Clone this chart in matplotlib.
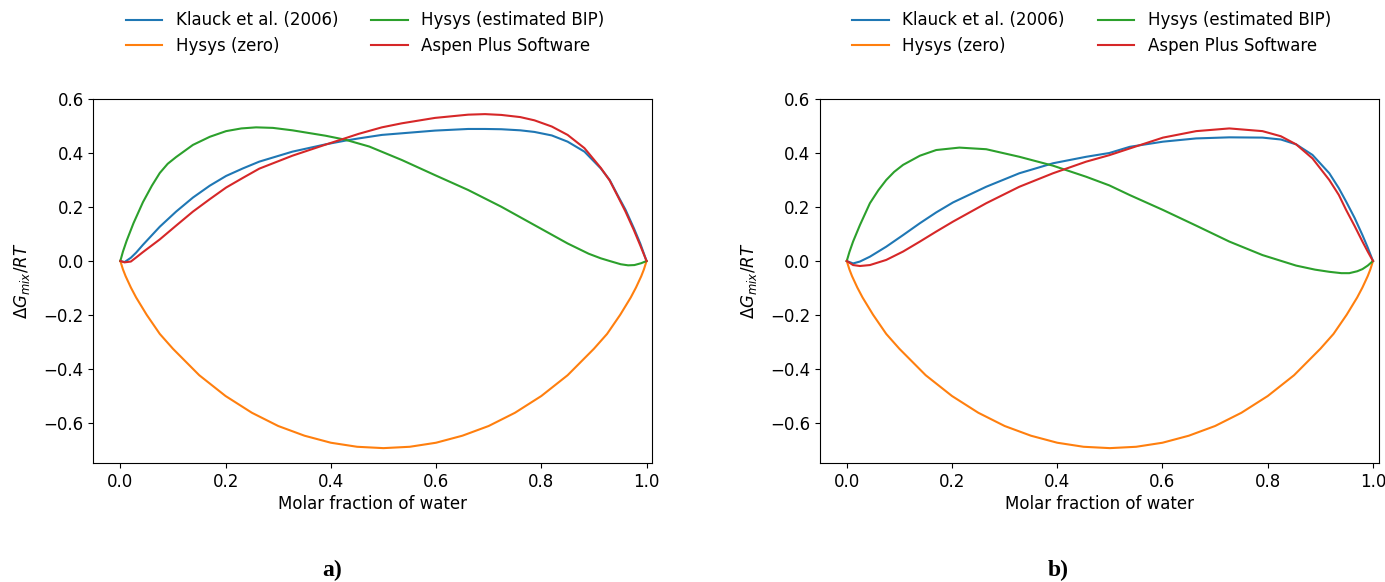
import matplotlib
matplotlib.use("Agg")
import matplotlib.pyplot as plt

# values
x_a = [0.0, 0.008, 0.02, 0.03, 0.043, 0.075, 0.106, 0.138, 0.170, 0.201, 0.233, 0.264,
       0.327, 0.39, 0.428, 0.453, 0.497, 0.535, 0.598, 0.661, 0.693, 0.724, 0.76, 0.787,
       0.82, 0.850, 0.882, 0.913, 0.93, 0.945, 0.96, 0.976, 0.988, 1.0]
klauck_a = [0.0, -0.004, 0.012, 0.031, 0.060, 0.127, 0.183, 0.235, 0.279, 0.315, 0.343, 0.368,
            0.405, 0.432, 0.446, 0.454, 0.467, 0.473, 0.483, 0.489, 0.489, 0.488, 0.484, 0.478,
            0.465, 0.442, 0.405, 0.343, 0.300, 0.244, 0.190, 0.121, 0.065, 0.0]
aspen_a = [0.0, -0.005, -0.002, 0.013, 0.033, 0.080, 0.131, 0.183, 0.229, 0.272, 0.308, 0.342,
           0.390, 0.431, 0.455, 0.471, 0.495, 0.510, 0.530, 0.542, 0.544, 0.541, 0.533, 0.521,
           0.498, 0.467, 0.418, 0.345, 0.298, 0.241, 0.183, 0.114, 0.058, 0.0]

x_hb_a = [0.0, 0.005, 0.012, 0.025, 0.043, 0.06, 0.075, 0.09, 0.106, 0.138, 0.170, 0.201,
          0.23, 0.258, 0.29, 0.327, 0.39, 0.428, 0.473, 0.535, 0.598, 0.661, 0.724, 0.787,
          0.850, 0.89, 0.913, 0.93, 0.951, 0.965, 0.977, 0.99, 1.0]
hysys_bip_a = [0.0, 0.035, 0.075, 0.140, 0.218, 0.279, 0.326, 0.360, 0.385, 0.430, 0.460, 0.481,
               0.491, 0.495, 0.493, 0.484, 0.464, 0.449, 0.424, 0.374, 0.318, 0.263, 0.201, 0.133,
               0.065, 0.027, 0.010, 0.0, -0.012, -0.016, -0.015, -0.008, 0.0]

x_b = [0.0, 0.012, 0.025, 0.044, 0.075, 0.107, 0.139, 0.170, 0.202, 0.265, 0.328,
       0.392, 0.455, 0.499, 0.538, 0.601, 0.664, 0.727, 0.790, 0.825, 0.854, 0.885, 0.917,
       0.935, 0.949, 0.965, 0.980, 0.99, 1.0]
klauck_b = [0.0, -0.009, -0.002, 0.016, 0.053, 0.096, 0.140, 0.180, 0.217, 0.275, 0.325,
            0.362, 0.386, 0.400, 0.423, 0.442, 0.454, 0.458, 0.457, 0.450, 0.432, 0.393, 0.325,
            0.270, 0.220, 0.160, 0.096, 0.050, 0.0]
aspen_b = [0.0, -0.015, -0.0185, -0.015, 0.004, 0.035, 0.072, 0.109, 0.146, 0.214, 0.275,
           0.325, 0.368, 0.392, 0.417, 0.457, 0.481, 0.491, 0.481, 0.462, 0.432, 0.380, 0.300,
           0.245, 0.189, 0.130, 0.072, 0.035, 0.0]

x_hb_b = [0.0, 0.005, 0.012, 0.025, 0.044, 0.06, 0.075, 0.09, 0.107, 0.139, 0.170, 0.214,
          0.265, 0.328, 0.392, 0.455, 0.499, 0.538, 0.601, 0.664, 0.727, 0.790, 0.854, 0.89,
          0.917, 0.94, 0.955, 0.97, 0.98, 0.99, 1.0]
hysys_bip_b = [0.0, 0.033, 0.072, 0.133, 0.214, 0.262, 0.300, 0.330, 0.356, 0.390, 0.411, 0.420,
               0.414, 0.386, 0.353, 0.312, 0.280, 0.244, 0.189, 0.131, 0.072, 0.022, -0.017,
               -0.032, -0.040, -0.045, -0.045, -0.038, -0.030, -0.017, 0.0]

x_zero = [0.0, 0.005, 0.01, 0.02, 0.03, 0.05, 0.075, 0.1, 0.15, 0.2, 0.25, 0.3, 0.35, 0.4,
          0.45, 0.5, 0.55, 0.6, 0.65, 0.7, 0.75, 0.8, 0.85, 0.9, 0.925, 0.95, 0.97, 0.98,
          0.99, 0.995, 1.0]
hysys_zero = [0.0, -0.031, -0.056, -0.098, -0.135, -0.199, -0.270, -0.325, -0.423, -0.500,
              -0.562, -0.611, -0.647, -0.673, -0.688, -0.693, -0.688, -0.673, -0.647, -0.611,
              -0.562, -0.500, -0.423, -0.325, -0.270, -0.199, -0.135, -0.098, -0.056, -0.031,
              0.0]

panels = [
    ("a)", x_a, klauck_a, aspen_a, x_hb_a, hysys_bip_a),
    ("b)", x_b, klauck_b, aspen_b, x_hb_b, hysys_bip_b),
]

fig = plt.figure(figsize=(13.85, 5.82), dpi=100)
lefts = [0.0675, 0.592]

for left, (tag, xs, kl, asp, xh, hb) in zip(lefts, panels):
    ax = fig.add_axes([left, 0.2045, 0.4035, 0.6254])
    ax.plot(xs, kl, color="tab:blue", label="Klauck et al. (2006)")
    ax.plot(x_zero, hysys_zero, color="tab:orange", label="Hysys (zero)")
    ax.plot(xh, hb, color="tab:green", label="Hysys (estimated BIP)")
    ax.plot(xs, asp, color="tab:red", label="Aspen Plus Software")
    ax.set_xlim(-0.051, 1.011)
    ax.set_ylim(-0.748, 0.6)
    ax.set_xticks([0.0, 0.2, 0.4, 0.6, 0.8, 1.0])
    ax.set_yticks([-0.6, -0.4, -0.2, 0.0, 0.2, 0.4, 0.6])
    ax.tick_params(labelsize=12)
    ax.set_xlabel("Molar fraction of water", fontsize=12, labelpad=3)
    ax.set_ylabel(r"$\Delta G_{mix}/RT$", fontsize=12, labelpad=8)
    ax.legend(ncol=2, frameon=False, fontsize=12, loc="lower center",
              bbox_to_anchor=(0.486, 1.08), columnspacing=2.0,
              labelspacing=0.45, handlelength=2.2)
    ax.text(0.427, -0.295, tag, transform=ax.transAxes, ha="center", va="center",
            fontsize=17, fontweight="bold", family="Liberation Serif")

fig.savefig("out.png", dpi=100)
